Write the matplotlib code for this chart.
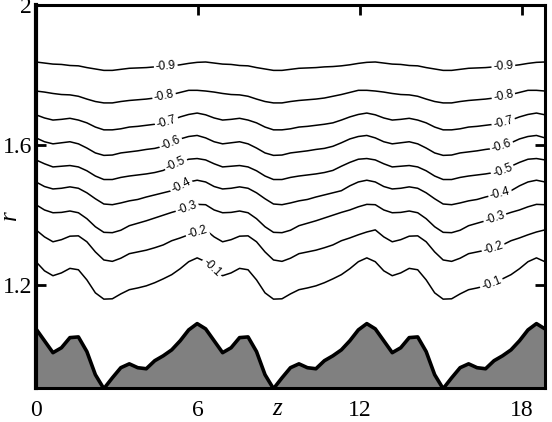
import numpy as np
import matplotlib.pyplot as plt

# one period (z = k * 2pi/20, k = 0..19) of the wall and of each streamline
n_per = 20
n_periods = 3

wall_r = [1.074, 1.040, 1.006, 1.020, 1.049, 1.051, 1.009, 0.943, 0.903, 0.934,
          0.963, 0.974, 0.963, 0.960, 0.983, 0.997, 1.014, 1.040, 1.071, 1.089]

psi_09 = [1.837, 1.834, 1.831, 1.830, 1.827, 1.826, 1.821, 1.817, 1.813, 1.813,
          1.816, 1.819, 1.820, 1.821, 1.823, 1.824, 1.826, 1.829, 1.833, 1.836]
psi_08 = [1.754, 1.751, 1.747, 1.744, 1.743, 1.739, 1.731, 1.724, 1.720, 1.720,
          1.724, 1.727, 1.729, 1.731, 1.734, 1.739, 1.744, 1.750, 1.756, 1.756]
psi_07 = [1.686, 1.677, 1.671, 1.673, 1.676, 1.671, 1.663, 1.651, 1.643, 1.643,
          1.646, 1.651, 1.653, 1.656, 1.659, 1.663, 1.671, 1.680, 1.687, 1.691]
psi_06 = [1.620, 1.609, 1.603, 1.606, 1.609, 1.603, 1.591, 1.577, 1.570, 1.571,
          1.577, 1.580, 1.583, 1.587, 1.590, 1.596, 1.606, 1.617, 1.624, 1.627]
psi_05 = [1.557, 1.546, 1.537, 1.539, 1.541, 1.537, 1.526, 1.511, 1.501, 1.501,
          1.507, 1.511, 1.514, 1.517, 1.521, 1.527, 1.539, 1.550, 1.559, 1.561]
psi_04 = [1.494, 1.481, 1.474, 1.476, 1.480, 1.476, 1.463, 1.446, 1.431, 1.429,
          1.434, 1.440, 1.444, 1.451, 1.457, 1.463, 1.469, 1.483, 1.494, 1.499]
psi_03 = [1.429, 1.414, 1.406, 1.407, 1.411, 1.406, 1.389, 1.366, 1.350, 1.349,
          1.356, 1.369, 1.376, 1.383, 1.391, 1.399, 1.407, 1.414, 1.423, 1.430]
psi_02 = [1.357, 1.337, 1.323, 1.329, 1.339, 1.340, 1.323, 1.294, 1.271, 1.267,
          1.276, 1.289, 1.294, 1.299, 1.306, 1.314, 1.326, 1.334, 1.343, 1.351]
psi_01 = [1.266, 1.240, 1.226, 1.234, 1.247, 1.243, 1.214, 1.177, 1.159, 1.160,
          1.174, 1.186, 1.191, 1.197, 1.206, 1.217, 1.229, 1.246, 1.266, 1.277]

levels = [-0.9, -0.8, -0.7, -0.6, -0.5, -0.4, -0.3, -0.2, -0.1]
lines = [psi_09, psi_08, psi_07, psi_06, psi_05, psi_04, psi_03, psi_02, psi_01]

xticks = [0, 6, 12, 18]
yticks = [1.2, 1.6, 2.0]
ytick_labels = ['1.2', '1.6', '2']

# where the labels sit along each line (in sample index units)
left_label_k = [15.3, 15.1, 15.4, 15.9, 16.5, 17.1, 17.8, 19.0, 20.7]
right_label_k = [55.1, 55.1, 55.1, 54.9, 55.0, 54.7, 54.1, 53.9, 53.7]

dz = 2 * np.pi / n_per
z = np.arange(n_per * n_periods + 1) * dz


def tile(vals):
    vals = np.asarray(vals)
    return np.append(np.tile(vals, n_periods), vals[0])


plt.rcParams['font.family'] = 'Liberation Serif'
fig = plt.figure(figsize=(5.52, 4.22), dpi=100)
ax = fig.add_axes([0.0652, 0.0806, 0.922, 0.9076])
ax.set_xlim(0, 6 * np.pi)
ax.set_ylim(0.905, 2.0)

wall = tile(wall_r)
ax.fill_between(z, 0.5, wall, color='#808080', lw=0, zorder=1)
ax.plot(z, wall, color='black', lw=2.6, solid_joinstyle='round', zorder=2)

for lev, vals, kl, kr in zip(levels, lines, left_label_k, right_label_k):
    r = tile(vals)
    ax.plot(z, r, color='black', lw=1.1, solid_joinstyle='round', zorder=2)
    for k in (kl, kr):
        zl = k * dz
        rl = np.interp(zl, z, r)
        p1 = ax.transData.transform((zl - 0.2, np.interp(zl - 0.2, z, r)))
        p2 = ax.transData.transform((zl + 0.2, np.interp(zl + 0.2, z, r)))
        ang = np.degrees(np.arctan2(p2[1] - p1[1], p2[0] - p1[0]))
        ax.text(zl, rl, '%.1f' % lev, fontsize=8.5, family='Liberation Sans',
                rotation=ang, rotation_mode='anchor', ha='center', va='center',
                bbox=dict(boxstyle='square,pad=0.15', fc='white', ec='none'),
                zorder=3)

ax.set_xticks(xticks)
ax.set_xticklabels([str(t) for t in xticks])
ax.set_yticks(yticks)
ax.set_yticklabels(ytick_labels)
ax.tick_params(direction='in', length=7, width=2, labelsize=17,
               top=True, right=True, bottom=False)
ax.tick_params(axis='x', pad=9)
ax.tick_params(axis='y', pad=3)
for s in ax.spines.values():
    s.set_linewidth(2.2)
ax.spines['left'].set_linewidth(3)

ax.set_xlabel('z', fontsize=18, style='italic')
ax.xaxis.set_label_coords(0.473, -0.055)
ax.xaxis.label.set_va('center')
ax.set_ylabel('r', fontsize=18, style='italic')
ax.yaxis.set_label_coords(-0.052, 0.452)
ax.yaxis.label.set_va('center')

fig.savefig('out.png', dpi=100)
